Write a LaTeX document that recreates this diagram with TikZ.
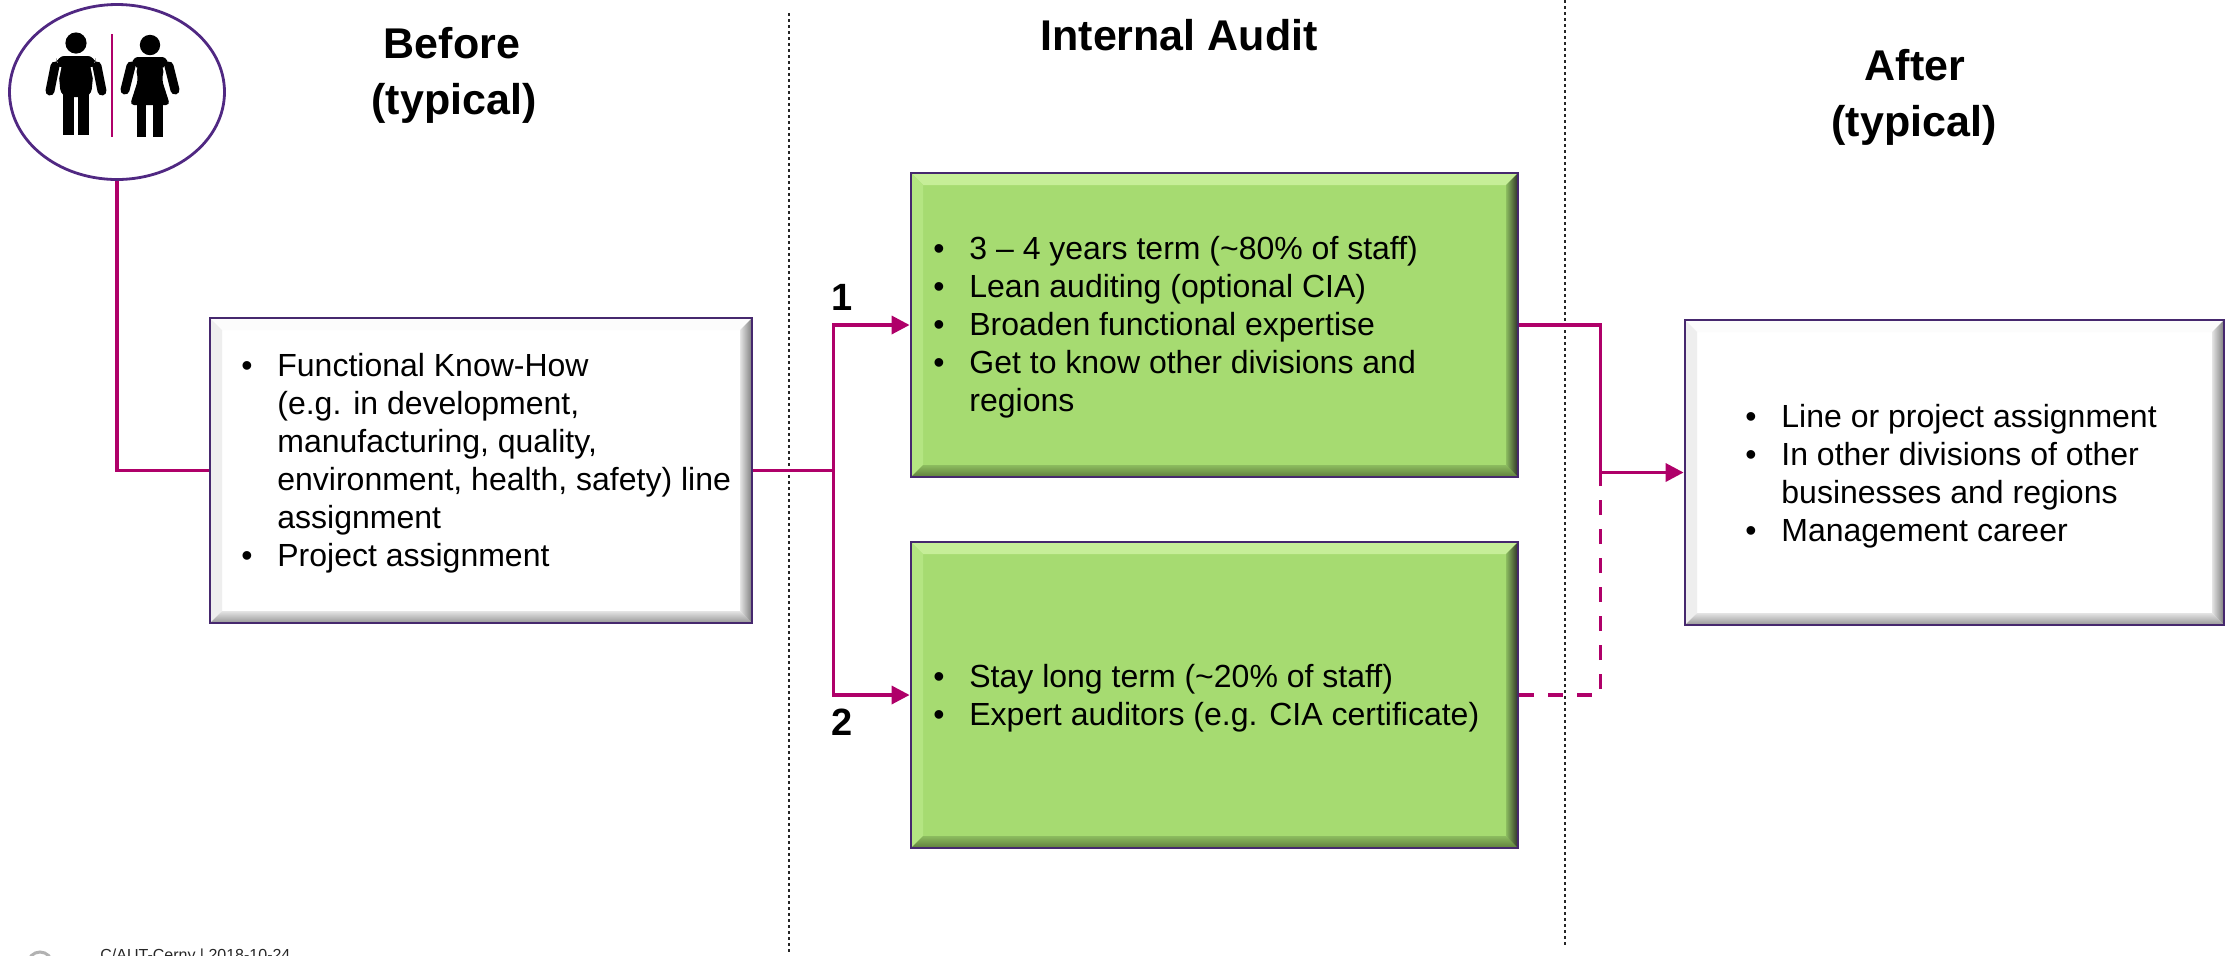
\documentclass[tikz,border=0pt]{standalone}
\usepackage{fontspec}
\setmainfont{Liberation Sans}
\usetikzlibrary{shapes.geometric,fit,calc,arrows.meta}
\definecolor{mag}{RGB}{175,0,105}
\definecolor{bord}{RGB}{70,40,110}
\definecolor{ellc}{RGB}{80,40,130}
\definecolor{grn}{RGB}{166,219,113}
\definecolor{grnT}{RGB}{198,238,152}
\definecolor{grnL}{RGB}{180,229,130}
\definecolor{grnR}{RGB}{140,188,95}
\definecolor{grnD}{RGB}{45,50,40}
\definecolor{grnB}{RGB}{95,125,60}
\definecolor{whT}{RGB}{252,252,252}
\definecolor{whL}{RGB}{238,238,238}
\definecolor{whR}{RGB}{228,228,228}
\definecolor{whD}{RGB}{125,125,125}
\definecolor{whB}{RGB}{150,150,150}
\newcommand{\bul}{\makebox[18pt][l]{•}}
\newcommand{\ind}{\hspace*{18pt}}
\tikzset{
  bevel/.style n args={5}{path picture={
    \path (path picture bounding box.north west) coordinate (bNW)
          (path picture bounding box.north east) coordinate (bNE)
          (path picture bounding box.south west) coordinate (bSW)
          (path picture bounding box.south east) coordinate (bSE);
    \fill[#1] (bNW) -- (bNE) -- ($(bNE)+(-6pt,-6pt)$) -- ($(bNW)+(6pt,-6pt)$) -- cycle;
    \fill[#2] (bNW) -- ($(bNW)+(6pt,-6pt)$) -- ($(bSW)+(6pt,6pt)$) -- (bSW) -- cycle;
    \shade[top color=#3, bottom color=#5] (bSW) -- ($(bSW)+(6pt,6pt)$) -- ($(bSE)+(-6pt,6pt)$) -- (bSE) -- cycle;
    \shade[left color=#3, right color=#4] (bNE) -- (bSE) -- ($(bSE)+(-6pt,6pt)$) -- ($(bNE)+(-6pt,-6pt)$) -- cycle;
  }},
  box/.style={draw=bord, line width=1.4pt, inner sep=0pt},
  whitebox/.style={box, fill=white, bevel={whT}{whL}{whR}{whD}{whB}},
  greenbox/.style={box, fill=grn, bevel={grnT}{grnL}{grnR}{grnD}{grnB}},
  conn/.style={draw=mag, line width=1.75pt},
  arr/.style={conn, -{Triangle[length=9pt,width=9pt]}},
  dashconn/.style={conn, dash pattern=on 7.5pt off 7pt},
  body/.style={inner sep=0pt, anchor=north west, align=left, font=\fontsize{16pt}{19pt}\selectfont},
  head/.style={inner sep=0pt, anchor=base, font=\fontsize{21.5pt}{26pt}\selectfont\bfseries},
  lbl/.style={inner sep=0pt, font=\fontsize{19pt}{22pt}\selectfont\bfseries},
  sepline/.style={line width=0.6pt, black!85, dash pattern=on 1.5pt off 1.5pt},
  limb/.style={line width=4.5pt, line cap=round, preaction={draw=white, line width=6.5pt}},
}
\begin{document}
\begin{tikzpicture}[x=0.5pt,y=-0.5pt]
\useasboundingbox (0,0) rectangle (2228,955);
\clip (0,0) rectangle (2228,955);

% separators
\draw[sepline] (789,13) -- (789,955);
\draw[sepline] (1565,0) -- (1565,945);

% headings
\node[head] (hb1) at (452,58) {Before};
\node[head] (hb2) at (454,114) {(typical)};
\node[head] (hi) at (1179,50) {Internal Audit};
\node[head] (ha1) at (1915,80) {After};
\node[head] (ha2) at (1914,136) {(typical)};

% icon
\node[draw=ellc, line width=1.4pt, ellipse, minimum width=107.5pt, minimum height=87.5pt, inner sep=0pt] (icon) at (117,92) {};
% man
\fill (76,43) circle (5.3pt);
\fill[rounded corners=4pt] (57,56) -- (95,56) -- (91,97) -- (61,97) -- cycle;
\fill (63,90) rectangle (74,135);
\fill (78,90) rectangle (89,135);
\draw[limb] (55,66) -- (50,91);
\draw[limb] (97,66) -- (102,91);
\fill[rounded corners=4pt] (57,56) -- (95,56) -- (96,66) -- (56,66) -- cycle;
% divider
\draw[mag, line width=0.8pt] (112,34) -- (112,137);
% woman
\fill (150,45) circle (5.1pt);
\fill[rounded corners=2pt] (134,57) -- (166,57) -- (162,80) -- (170,105) -- (130,105) -- (138,80) -- cycle;
\fill (137,103) rectangle (146,137);
\fill (153,103) rectangle (163,137);
\draw[limb] (131,66) -- (125,90);
\draw[limb] (169,66) -- (175,90);
\fill[rounded corners=2pt] (134,57) -- (166,57) -- (169,66) -- (131,66) -- cycle;

% boxes
\node[whitebox, fit={(210,318) (752,623)}] (L) {};
\node[greenbox, fit={(911,173) (1518,477)}] (G1) {};
\node[greenbox, fit={(911,542) (1518,848)}] (G2) {};
\node[whitebox, fit={(1685,320) (2224,625)}] (R) {};

% texts
\node[body] (tL) at (241,349.4) {\strut\bul Functional Know-How\\\ind (e.g. in development,\\\ind manufacturing, quality,\\\ind environment, health, safety) line\\\ind assignment\\\bul Project assignment};
\node[body] (tG1) at (933,232.4) {\strut\bul 3 – 4 years term (\textasciitilde 80\% of staff)\\\bul Lean auditing (optional CIA)\\\bul Broaden functional expertise\\\bul Get to know other divisions and\\\ind regions};
\node[body] (tG2) at (933,660.4) {\strut\bul Stay long term (\textasciitilde 20\% of staff)\\\bul Expert auditors (e.g. CIA certificate)};
\node[body] (tR) at (1745,400.4) {\strut\bul Line or project assignment\\\bul In other divisions of other\\\ind businesses and regions\\\bul Management career};

% connectors
\coordinate (br) at ($(L.east)+(80,0)$);
\coordinate (mg) at ($(R.west)+(-83,0)$);
\draw[conn] (icon.south) |- (L.west);
\draw[conn] (L.east) -- (br);
\draw[arr] (br) |- (G1.west);
\draw[arr] (br) |- (G2.west);
\draw[conn] (G1.east) -| (mg);
\draw[dashconn] (G2.east) -| (mg);
\draw[arr] (mg) -- (R.west);

% labels
\node[lbl] (n1) at (842,297) {1};
\node[lbl] (n2) at (842,722) {2};

% footer (cut off at the bottom)
\draw[gray!60, line width=1.5pt] (40,964) circle (6pt);
\node[inner sep=0pt, anchor=base west, font=\fontsize{8pt}{9pt}\selectfont, text=black!85] (foot) at (100,960) {C/AUT-Cerny | 2018-10-24};
\end{tikzpicture}
\end{document}
